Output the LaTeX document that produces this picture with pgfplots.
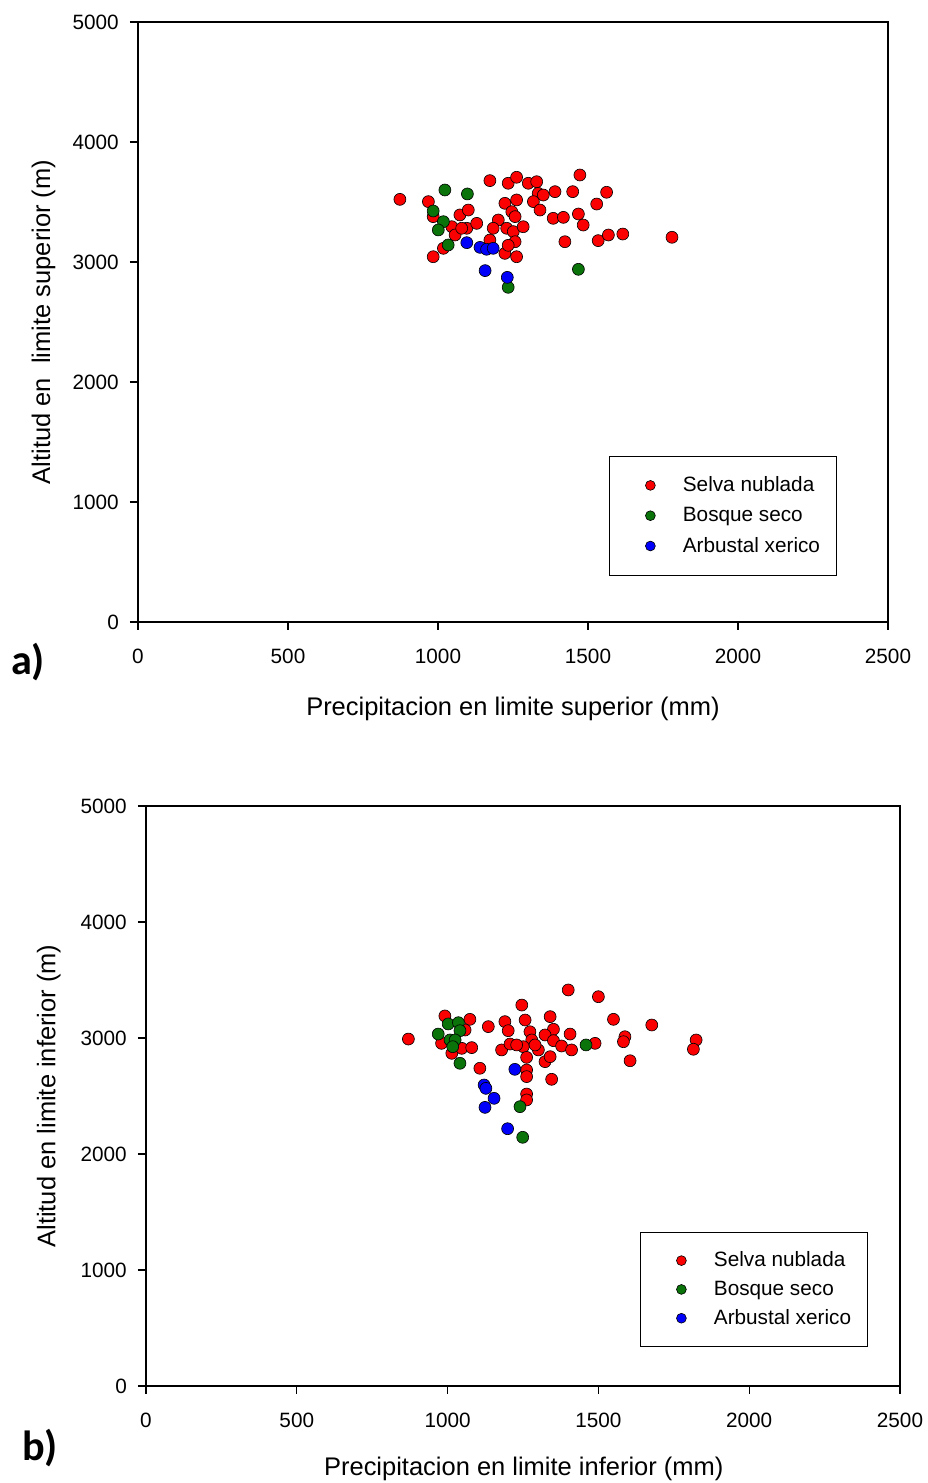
\documentclass[border=0pt]{standalone}
\usepackage{fontspec}
\setmainfont{Liberation Sans}
\newfontfamily\panelfont{Carlito}
\usepackage{pgfplots}
\pgfplotsset{compat=1.18}
\definecolor{selva}{RGB}{250,0,0}
\definecolor{bosque}{RGB}{10,115,10}
\definecolor{arbustal}{RGB}{0,0,250}

\pgfplotsset{
  panel/.style={
    scale only axis,
    xmin=0, xmax=2500, ymin=0, ymax=5000,
    xtick={0,500,...,2500}, ytick={0,1000,...,5000},
    tick align=outside, tick pos=left, major tick length=0.16cm,
    axis line style={line width=0.6pt}, tick style={line width=0.6pt, black},
    scaled ticks=false,
    /pgf/number format/assume math mode=true,
    /pgf/number format/set thousands separator={},
    ticklabel style={font=\fontsize{11.8}{14}\selectfont},
    xticklabel style={yshift=-0.26cm},
    yticklabel style={xshift=-0.10cm},
    label style={font=\fontsize{14.5}{17}\selectfont},
    legend cell align=left,
    legend style={draw=black, line width=0.5pt, font=\fontsize{11.8}{14}\selectfont,
      inner xsep=0.26cm, inner ysep=0.34cm, row sep=0.12cm},
    legend image code/.code={
      \path[draw=none, fill=none] (-0.56cm,0cm) -- (0.58cm,0cm);
      \draw[#1, mark size=2.8pt] plot coordinates {(0cm,0cm)};},
  },
  pts/.style={only marks, mark=*, mark size=3.4pt, draw=black, line width=0.35pt, fill=#1},
}

\begin{document}
\begin{tikzpicture}
\path[use as bounding box] (0,0) rectangle (18.56,29.66);

% ---------- a) ----------
\begin{axis}[panel,
  at={(2.76cm,17.22cm)}, anchor=south west,
  width=15cm, height=12cm,
  xlabel={Precipitacion en limite superior (mm)},
  ylabel={Altitud en\ \ limite superior (m)},
  xlabel style={at={(axis description cs:0.5,-0.145)}, anchor=center},
  ylabel style={at={(axis description cs:-0.126,0.5)}, anchor=center},
  legend style={at={(0.932,0.077)}, anchor=south east},
]
\addplot[pts=selva] table {
873 3522
968 3503
984 3378
984 3044
1018 3114
1046 3294
1057 3225
1073 3392
1101 3433
1096 3281
1079 3281
1129 3322
1173 3678
1173 3183
1201 3350
1184 3281
1234 3656
1262 3706
1301 3656
1329 3669
1334 3572
1351 3558
1318 3503
1340 3433
1223 3489
1262 3517
1246 3419
1257 3378
1229 3281
1251 3253
1284 3294
1257 3169
1262 3044
1223 3072
1234 3139
1390 3586
1449 3586
1473 3725
1562 3581
1529 3483
1384 3364
1418 3372
1468 3400
1484 3308
1423 3169
1534 3178
1568 3225
1616 3233
1780 3206
};
\addplot[pts=bosque] table {
1023 3600
1098 3567
984 3425
1018 3336
1001 3267
1034 3142
1468 2939
1234 2789
};
\addplot[pts=arbustal] table {
1096 3161
1140 3122
1162 3106
1184 3114
1157 2928
1231 2872
};
\legend{Selva nublada, Bosque seco, Arbustal xerico}
\end{axis}

% ---------- b) ----------
\begin{axis}[panel,
  at={(2.92cm,1.94cm)}, anchor=south west,
  width=15.08cm, height=11.6cm,
  xlabel={Precipitacion en limite inferior (mm)},
  ylabel={Altitud en limite inferior (m)},
  xlabel style={at={(axis description cs:0.501,-0.143)}, anchor=center},
  ylabel style={at={(axis description cs:-0.129,0.5)}, anchor=center},
  legend style={at={(0.9576,0.0672)}, anchor=south east,
    inner ysep=0.32cm, row sep=0.09cm},
]
\addplot[pts=selva] table {
870 2991
991 3190
1074 3161
1058 3069
980 2954
1014 2868
1047 2911
1080 2917
1135 3098
1107 2739
1190 3141
1201 3063
1179 2897
1207 2948
1246 3284
1257 3155
1273 3054
1279 2983
1251 2925
1262 2833
1262 2724
1262 2667
1262 2517
1262 2466
1301 2897
1323 2796
1340 2839
1340 3184
1351 3075
1323 3026
1351 2977
1378 2931
1411 2897
1406 3034
1345 2644
1400 3414
1500 3356
1550 3161
1588 3011
1583 2968
1489 2954
1605 2804
1677 3112
1824 2983
1815 2903
1229 2940
1290 2940
};
\addplot[pts=bosque] table {
1002 3121
1036 3132
1041 3063
969 3034
1008 2983
1025 2983
1017 2925
1041 2782
1459 2940
1240 2408
1249 2144
};
\addplot[pts=arbustal] table {
1223 2730
1121 2595
1127 2566
1154 2480
1124 2402
1199 2218
};
\legend{Selva nublada, Bosque seco, Arbustal xerico}
\end{axis}

\node[font=\panelfont\bfseries\fontsize{24}{28}\selectfont] at (0.56,16.42) {a)};
\node[font=\panelfont\bfseries\fontsize{24}{28}\selectfont] at (0.8,0.7) {b)};
\end{tikzpicture}
\end{document}
